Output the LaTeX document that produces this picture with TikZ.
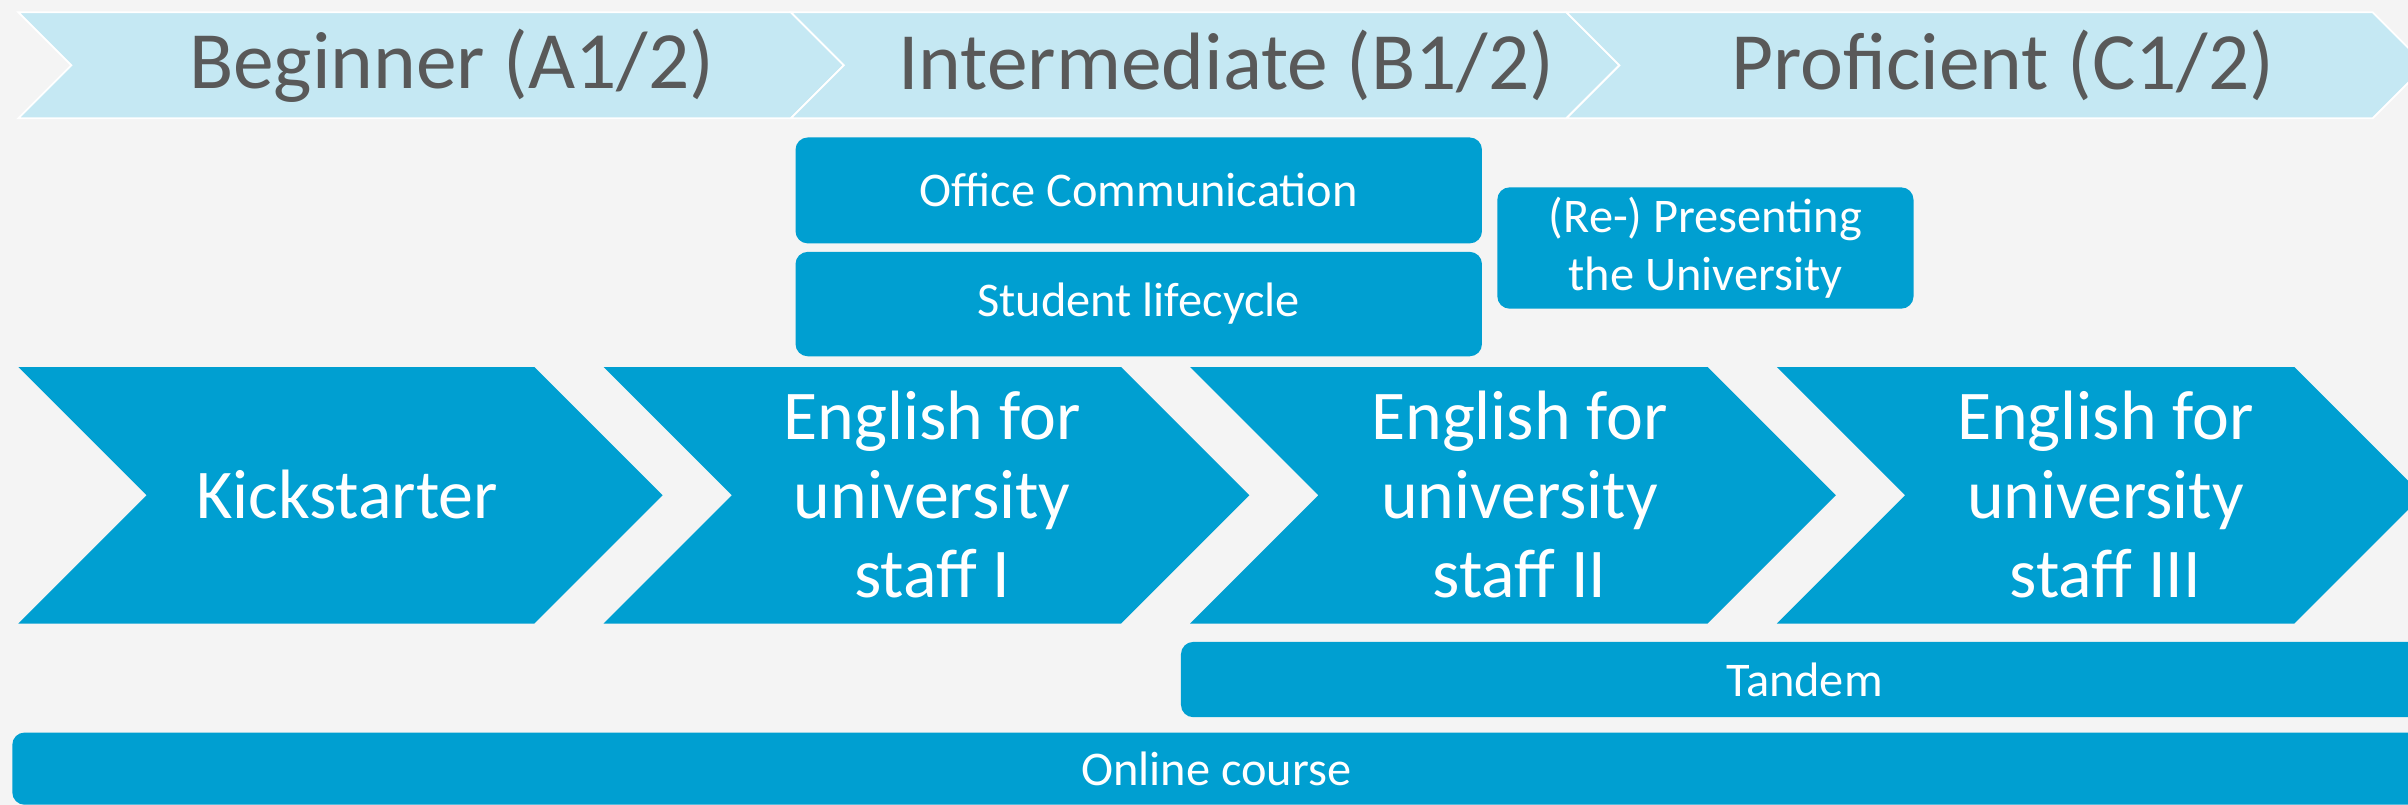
\documentclass[tikz,border=0pt]{standalone}
\usepackage{fontspec}
\setmainfont{Carlito}
\definecolor{pageback}{HTML}{F4F4F4}
\definecolor{levelband}{HTML}{C5E8F3}
\definecolor{courseblue}{HTML}{009FD1}
\definecolor{leveltext}{HTML}{595959}

\tikzset{
  band/.style={fill=levelband, draw=white, line width=1.2pt},
  stage/.style={fill=courseblue},
  bandlabel/.style={text=leveltext, inner sep=0pt, font=\fontsize{53}{60}\selectfont},
  stagelabel/.style={text=white, align=center, inner sep=0pt, font=\fontsize{45.5}{51.5}\selectfont},
  module/.style={fill=courseblue, rounded corners=8pt, text=white, align=center, inner sep=0pt, font=\fontsize{31.5}{38}\selectfont}
}

\begin{document}
\begin{tikzpicture}[x=1pt, y=-1pt]
    \useasboundingbox[fill=pageback] (0,0) rectangle (1568,524);

    % levels
    \draw[band] (12,8) -- (515,8) -- (549.5,42.5) -- (515,77) -- (12,77) -- (46.5,42.5) -- cycle;
    \draw[band] (515,8) -- (1020,8) -- (1054.5,42.5) -- (1020,77) -- (515,77) -- (549.5,42.5) -- cycle;
    \draw[band] (1020,8) -- (1545,8) -- (1579.5,42.5) -- (1545,77) -- (1020,77) -- (1054.5,42.5) -- cycle;
    \node[bandlabel] (beginner) at (294,42.5) {Beginner (A1/2)};
    \node[bandlabel] (intermediate) at (798.5,42.5) {Intermediate (B1/2)};
    \node[bandlabel] (proficient) at (1304,42.5) {Proficient (C1/2)};

    % special modules
    \node[module, minimum width=447pt, minimum height=69pt] (office) at (741.5,124) {Office Communication};
    \node[module, minimum width=447pt, minimum height=68pt] (lifecycle) at (741.5,198) {Student lifecycle};
    \node[module, minimum width=271pt, minimum height=79pt] (presenting) at (1110.5,161.5) {(Re-) Presenting\\the University};

    % main courses
    \fill[stage] (12,239) -- (348,239) -- (431.5,322.5) -- (348,406) -- (12,406) -- (95.5,322.5) -- cycle;
    \fill[stage] (393,239) -- (730,239) -- (813.5,322.5) -- (730,406) -- (393,406) -- (476.5,322.5) -- cycle;
    \fill[stage] (775,239) -- (1112,239) -- (1195.5,322.5) -- (1112,406) -- (775,406) -- (858.5,322.5) -- cycle;
    \fill[stage] (1157,239) -- (1494,239) -- (1577.5,322.5) -- (1494,406) -- (1157,406) -- (1240.5,322.5) -- cycle;
    \node[stagelabel] (kickstarter) at (226,322) {Kickstarter};
    \node[stagelabel] (staffone) at (607,322) {English for\\university\\staff I};
    \node[stagelabel] (stafftwo) at (989.5,322) {English for\\university\\staff II};
    \node[stagelabel] (staffthree) at (1371,322) {English for\\university\\staff III};

    % running offers
    \node[module, minimum width=812pt, minimum height=49pt] (tandem) at (1175,442.5) {Tandem};
    \node[module, minimum width=1568pt, minimum height=47pt] (online) at (792,500.5) {Online course};
\end{tikzpicture}
\end{document}
